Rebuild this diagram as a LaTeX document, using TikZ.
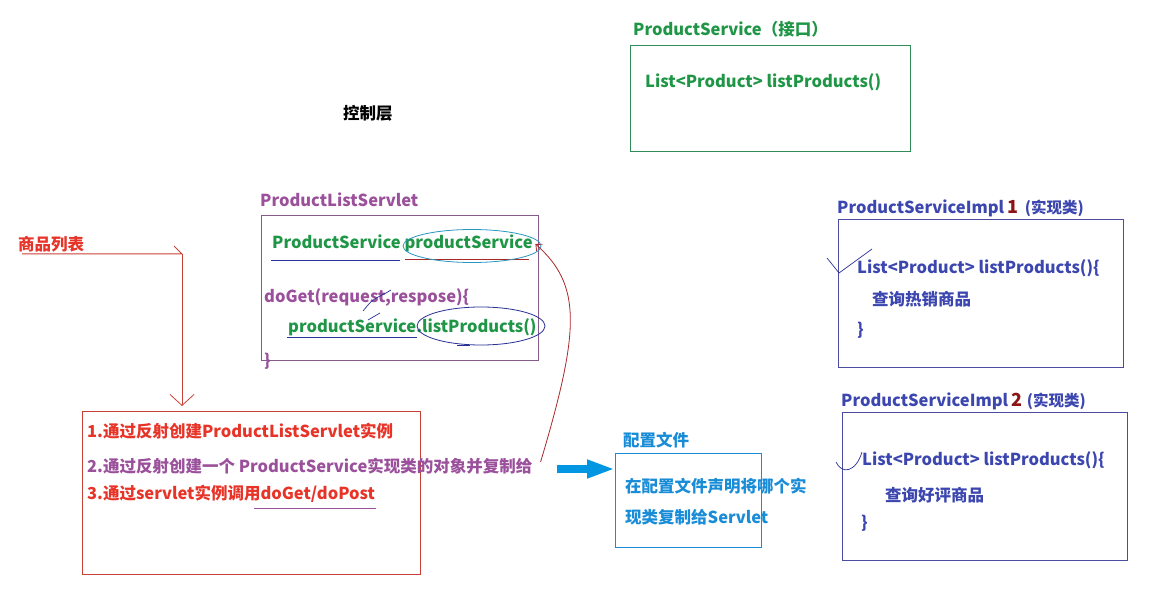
\documentclass[tikz,border=0pt]{standalone}
\usepackage{fontspec}
\setmainfont{Noto Sans CJK SC}
\usetikzlibrary{arrows.meta,shapes.geometric,calc}
\definecolor{cgreen}{RGB}{30,150,70}
\definecolor{cgreenb}{RGB}{50,140,90}
\definecolor{cpurple}{RGB}{155,80,155}
\definecolor{cpurpleb}{RGB}{135,90,140}
\definecolor{cred}{RGB}{232,52,40}
\definecolor{credb}{RGB}{200,65,55}
\definecolor{credl}{RGB}{170,40,40}
\definecolor{cblue}{RGB}{60,70,175}
\definecolor{cblueb}{RGB}{75,75,160}
\definecolor{cbluel}{RGB}{40,50,150}
\definecolor{ccfg}{RGB}{25,140,215}
\definecolor{carrow}{RGB}{0,150,225}
\definecolor{ccyan}{RGB}{40,150,190}
\definecolor{cdred}{RGB}{140,20,20}
\tikzset{
  txt/.style={inner sep=0pt, anchor=west, font=\bfseries\fontsize{16.5}{19}\selectfont},
  boxn/.style={draw, line width=1pt, anchor=north west, inner sep=0pt},
  scribble/.style={line width=0.7pt}
}
\begin{document}
\begin{tikzpicture}[x=1pt,y=-1pt]
\useasboundingbox (0,0) rectangle (1172,612);
\fill[white] (0,0) rectangle (1172,612);

% control layer label
\node[txt, black] (ctrl) at (343,113) {控制层};

% ProductService interface
\node[txt, text=cgreen] (psT) at (633,29) {ProductService（接口）};
\node[boxn, draw=cgreenb, minimum width=280pt, minimum height=106pt] (psBox) at (630,45) {};
\node[txt, text=cgreen] (psM) at (645,82) {List<Product> listProducts()};

% ProductListServlet
\node[txt, text=cpurple] (plT) at (260,200) {ProductListServlet};
\node[boxn, draw=cpurpleb, minimum width=277pt, minimum height=145pt] (plBox) at (261,215) {};
\node[txt, text=cgreen] (plF) at (272,243) {ProductService productService};
\node[txt, text=cpurple] (plG) at (264,297) {doGet(request,respose)\{};
\node[txt, text=cgreen] (plC) at (288,327) {productService.listProducts()};
\node[txt, text=cpurple] (plE) at (264,361) {\}};
\draw[cbluel, line width=0.8pt] (271,260) -- (400,260);
\draw[credl, line width=0.8pt] (405,259) -- (529,259);
\draw[cbluel, line width=0.8pt] (287,337) -- (417,337);
\node[draw=ccyan, line width=0.8pt, ellipse, inner sep=0pt, minimum width=138pt, minimum height=33pt] (ell1) at (472,246) {};
\node[draw=cbluel, line width=0.8pt, ellipse, inner sep=0pt, minimum width=128pt, minimum height=38pt] (ell2) at (481,326) {};
\draw[cbluel, scribble] (363,311) .. controls (372,300) .. (386,293) -- (391,290);
\draw[cbluel, scribble] (368,320) -- (380,313);
\draw[cbluel, scribble] (457,345) -- (470,345);

% product list label and arrow
\node[txt, text=cred] (lbl) at (18,244) {商品列表};
\coordinate (lstart) at (22,254);
\coordinate (corner) at (182,254);
\draw[credb, line width=1pt] (lstart) -- (corner) -- ($(corner)+(-8,-8)$);

% red steps box
\node[boxn, draw=credb, minimum width=338pt, minimum height=163pt] (redBox) at (82,411) {};
\draw[credb, line width=1pt, -{Straight Barb[length=11pt,width=24pt,line width=0.8pt]}, shorten >=5pt] (corner) -- (corner |- redBox.north);
\node[txt, text=cred] (s1) at (87,431) {1.通过反射创建ProductListServlet实例};
\node[txt, text=cpurple] (s2) at (87,466) {2.通过反射创建一个 ProductService实现类的对象并复制给};
\node[txt, text=cred] (s3) at (87,494) {3.通过servlet实例调用doGet/doPost};
\draw[cpurple, line width=0.8pt] (254,508) -- (376,508);

% red curve back to productService
\draw[credl, line width=0.8pt, -{Straight Barb[length=5pt,width=9pt]}] ($(s2.east)+(8,-4)$) .. controls (580,330) and (582,285) .. ($(ell1.east)+(-6,-2)$);

% config file
\node[txt, text=ccfg] (cfgT) at (623,440) {配置文件};
\node[boxn, draw=ccfg, minimum width=146pt, minimum height=94pt] (cfgBox) at (615,453) {};
\node[txt, text=ccfg] (cfg1) at (625,486) {在配置文件声明将哪个实};
\node[txt, text=ccfg] (cfg2) at (625,517) {现类复制给Servlet};
\draw[carrow, line width=8pt, -{Triangle[length=28pt,width=17pt]}] ($(s2.east)+(24,3)$) -- ($(s2.east -| cfgBox.west)+(0,3)$);

% implementation 1
\node[txt, text=cblue] (i1T) at (837,208) {ProductServiceImpl \textcolor{cdred}{\fontsize{18}{20}\selectfont 1}\hspace{6pt}{\bfseries\fontsize{15.5}{17}\selectfont (实现类)}};
\node[boxn, draw=cblueb, minimum width=285pt, minimum height=148pt] (i1Box) at (838,219) {};
\node[txt, text=cblue] (i1a) at (857,268) {List<Product> listProducts()\{};
\node[txt, text=cblue] (i1b) at (872,299) {查询热销商品};
\node[txt, text=cblue] (i1c) at (857,330) {\}};
\draw[cbluel, scribble] (827,258) -- (839,273) -- (872,249);

% implementation 2
\node[txt, text=cblue] (i2T) at (841,401) {ProductServiceImpl \textcolor{cdred}{\fontsize{18}{20}\selectfont 2}\hspace{4pt}{\bfseries\fontsize{15.5}{17}\selectfont (实现类)}};
\node[boxn, draw=cblueb, minimum width=285pt, minimum height=148pt] (i2Box) at (842,412) {};
\node[txt, text=cblue] (i2a) at (862,460) {List<Product> listProducts()\{};
\node[txt, text=cblue] (i2b) at (885,495) {查询好评商品};
\node[txt, text=cblue] (i2c) at (861,523) {\}};
\draw[cbluel, scribble] (836,462) .. controls (842,475) and (856,472) .. (862,452);
\end{tikzpicture}
\end{document}
